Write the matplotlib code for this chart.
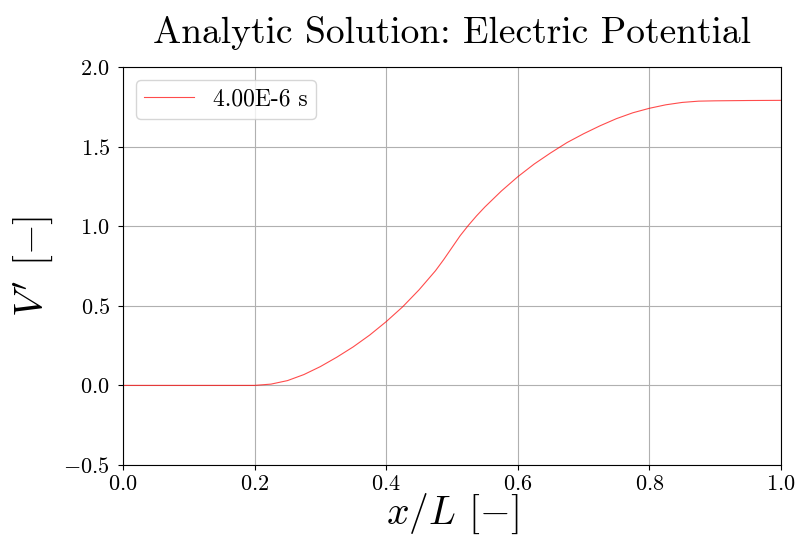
import matplotlib
matplotlib.use("Agg")
import matplotlib.pyplot as plt

plt.rcParams['font.family'] = 'serif'
plt.rcParams['font.serif'] = ['cmr10']
plt.rcParams['mathtext.fontset'] = 'cm'
plt.rcParams['axes.formatter.use_mathtext'] = True
plt.rcParams['axes.unicode_minus'] = True

x_vals = [0.0, 0.1, 0.2, 0.225, 0.25, 0.275, 0.3, 0.325, 0.35, 0.375, 0.4, 0.425,
          0.45, 0.475, 0.4875, 0.5, 0.5125, 0.525, 0.5375, 0.55, 0.575, 0.6, 0.625,
          0.65, 0.675, 0.7, 0.725, 0.75, 0.775, 0.8, 0.825, 0.85, 0.875, 0.9, 0.95, 1.0]
v_vals = [0.0, 0.0, 0.0, 0.008, 0.03, 0.068, 0.118, 0.177, 0.242, 0.316, 0.40, 0.493,
          0.60, 0.72, 0.79, 0.865, 0.94, 1.005, 1.065, 1.12, 1.22, 1.31, 1.39,
          1.46, 1.525, 1.58, 1.63, 1.675, 1.712, 1.74, 1.762, 1.777, 1.785, 1.787,
          1.789, 1.79]
series_label = "4.00E-6 s"

fig = plt.figure(figsize=(7.96, 5.44), dpi=100)
ax = fig.add_axes([0.1545, 0.1452, 0.8265, 0.7318])
ax.plot(x_vals, v_vals, color='red', lw=0.8, alpha=0.7, label=series_label)
ax.set_xlim(0, 1)
ax.set_ylim(-0.5, 2.0)
ax.set_xticks([0.0, 0.2, 0.4, 0.6, 0.8, 1.0])
ax.set_yticks([-0.5, 0.0, 0.5, 1.0, 1.5, 2.0])
ax.grid(True)
ax.tick_params(labelsize=16)
ax.tick_params(axis='y', pad=6)
ax.set_title("Analytic Solution: Electric Potential", fontsize=27, pad=17)
ax.set_xlabel(r"$x/L$ [$-$]", fontsize=28.5, labelpad=-2)
ax.set_ylabel(r"$V'$ [$-$]", fontsize=28.5, labelpad=6)
ax.legend(loc='upper left', fontsize=17, handlelength=2.1,
          borderaxespad=0.55, handletextpad=0.8, borderpad=0.35)
fig.savefig("out.png", dpi=100)
